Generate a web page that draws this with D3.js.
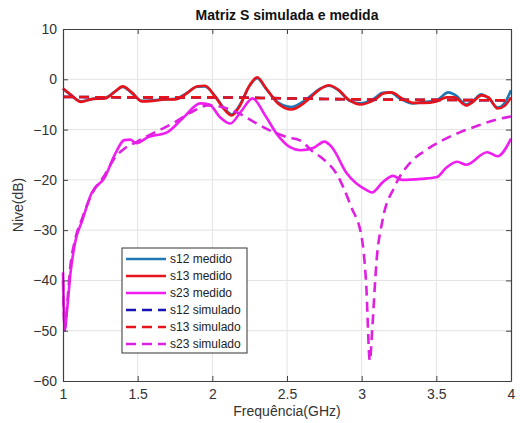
<!DOCTYPE html>
<html><head><meta charset="utf-8">
<script src="https://cdn.jsdelivr.net/npm/d3@7"></script>
<style>body{margin:0;background:#fff;}svg{display:block;font-family:"Liberation Sans",Arial,sans-serif;}</style>
</head><body><svg id="c" width="520" height="423"></svg>
<script>
const title = "Matriz S simulada e medida";
const xLabel = "Frequência(GHz)";
const yLabel = "Nive(dB)";
const xTicks = [1, 1.5, 2, 2.5, 3, 3.5, 4];
const yTicks = [-60, -50, -40, -30, -20, -10, 0, 10];
const seriesNames = ["s12 medido","s13 medido","s23 medido","s12 simulado","s13 simulado","s23 simulado"];

const s13MedF = [1.00,1.05,1.12,1.20,1.28,1.35,1.40,1.46,1.53,1.60,1.68,1.75,1.82,1.90,1.95,2.02,2.08,2.13,2.18,2.25,2.30,2.36,2.44,2.53,2.62,2.72,2.78,2.84,2.92,2.99,3.08,3.15,3.20,3.27,3.35,3.42,3.50,3.57,3.62,3.70,3.75,3.80,3.85,3.91,3.96,4.00];
const s13Med  = [-1.8,-3.0,-4.5,-3.9,-3.8,-2.4,-1.4,-2.6,-4.4,-4.3,-4.0,-4.0,-3.0,-1.4,-1.3,-3.5,-6.0,-7.2,-5.5,-1.2,0.4,-1.8,-4.8,-6.0,-4.6,-2.0,-1.2,-2.0,-4.2,-5.0,-4.2,-2.8,-2.6,-3.8,-4.7,-4.7,-4.4,-3.6,-3.6,-5.2,-4.4,-3.2,-3.6,-5.8,-5.2,-3.6];
const s12MedF = [1.00,1.05,1.12,1.20,1.28,1.35,1.40,1.46,1.53,1.60,1.68,1.75,1.82,1.90,1.95,2.02,2.08,2.13,2.18,2.25,2.30,2.36,2.44,2.53,2.62,2.72,2.78,2.84,2.92,2.99,3.08,3.14,3.19,3.26,3.34,3.42,3.50,3.58,3.63,3.70,3.75,3.80,3.85,3.91,3.96,4.00];
const s12Med  = [-1.9,-3.1,-4.4,-3.9,-3.7,-2.4,-1.5,-2.7,-4.3,-4.2,-4.0,-3.9,-2.9,-1.5,-1.4,-3.4,-5.8,-7.0,-5.3,-1.3,0.2,-1.9,-4.6,-5.5,-4.2,-1.9,-1.3,-2.1,-4.3,-4.8,-3.9,-2.7,-2.6,-3.9,-4.8,-4.5,-4.2,-2.6,-3.2,-5.0,-4.2,-3.0,-3.8,-5.6,-4.6,-2.2];
const s23MedF = [1.00,1.012,1.03,1.05,1.08,1.13,1.19,1.28,1.35,1.41,1.45,1.49,1.57,1.70,1.80,1.92,1.98,2.05,2.12,2.19,2.27,2.35,2.43,2.52,2.59,2.68,2.75,2.80,2.90,3.03,3.07,3.14,3.21,3.27,3.40,3.50,3.57,3.64,3.70,3.84,3.91,4.00];
const s23Med  = [-38.4,-49.5,-45,-38.6,-32.6,-28,-22.7,-19.5,-14.8,-12.1,-12.0,-12.7,-11.5,-10.5,-7.8,-4.8,-5.0,-7.5,-8.8,-6.5,-3.8,-7.0,-10.8,-13.5,-14.1,-13.6,-12.4,-13.5,-18.7,-22.0,-22.5,-20.5,-19.2,-20.0,-19.8,-19.5,-17.5,-16.4,-17.0,-14.5,-15.3,-11.8];
const simF    = [1.0,1.5,2.0,2.5,3.0,3.5,4.0];
const s13Sim  = [-3.5,-3.6,-3.6,-3.8,-4.0,-4.1,-4.2];
const s12Sim  = [-3.5,-3.6,-3.6,-3.8,-4.0,-4.1,-4.2];
const s23SimF = [1.00,1.012,1.03,1.05,1.08,1.13,1.19,1.28,1.35,1.41,1.49,1.55,1.62,1.75,1.88,1.97,2.10,2.18,2.28,2.38,2.50,2.59,2.67,2.74,2.83,2.93,3.00,3.03,3.055,3.07,3.10,3.14,3.22,3.34,3.43,3.55,3.66,3.78,3.88,4.00];
const s23Sim  = [-40,-50,-44,-37,-32,-27.5,-23,-19,-15.5,-13.8,-12.5,-11.5,-10.5,-8.5,-6.2,-5.2,-5.8,-6.8,-8.5,-10.1,-11.5,-12.2,-14.3,-15.8,-18.7,-25.4,-31.4,-40.6,-56,-50,-36,-28,-21.4,-16.1,-14.1,-12,-10.5,-9.2,-8.2,-7.4];

const svg = d3.select("#c");
const L=63, R=511, T=29, B=381;
const x = d3.scaleLinear().domain([1,4]).range([L,R]);
const y = d3.scaleLinear().domain([-60,10]).range([B,T]);

// grid
const g = svg.append("g");
g.selectAll(".vx").data(xTicks.slice(1,-1)).enter().append("line")
  .attr("x1",d=>x(d)).attr("x2",d=>x(d)).attr("y1",T).attr("y2",B)
  .attr("stroke","#e3e3e3").attr("stroke-width",1);
g.selectAll(".hy").data(yTicks.slice(1,-1)).enter().append("line")
  .attr("y1",d=>y(d)).attr("y2",d=>y(d)).attr("x1",L).attr("x2",R)
  .attr("stroke","#e3e3e3").attr("stroke-width",1);

const series = [
  {name:seriesNames[0], f:s12MedF, v:s12Med, color:"#1f77b4", dash:null},
  {name:seriesNames[1], f:s13MedF, v:s13Med, color:"#e8141c", dash:null},
  {name:seriesNames[2], f:s23MedF, v:s23Med, color:"#f01ef0", dash:null},
  {name:seriesNames[3], f:simF, v:s12Sim, color:"#1414b4", dash:"10,6"},
  {name:seriesNames[4], f:simF, v:s13Sim, color:"#e8141c", dash:"10,6"},
  {name:seriesNames[5], f:s23SimF, v:s23Sim, color:"#e020e0", dash:"10,6"}
];
const line = d3.line().x(d=>x(d[0])).y(d=>y(d[1])).curve(d3.curveMonotoneX);
const plot = svg.append("g");
series.forEach(s=>{
  plot.append("path").attr("d", line(s.f.map((f,i)=>[f,s.v[i]])))
    .attr("fill","none").attr("stroke",s.color).attr("stroke-width",2.6)
    .attr("stroke-dasharray",s.dash);
});

// axes
const axColor="#404040";
const xa = svg.append("g").attr("transform",`translate(0,${B})`)
  .call(d3.axisBottom(x).tickValues(xTicks).tickFormat(d3.format("")).tickSizeInner(-5).tickSizeOuter(0).tickPadding(8));
const xt = svg.append("g").attr("transform",`translate(0,${T})`)
  .call(d3.axisTop(x).tickValues(xTicks).tickFormat("").tickSizeInner(-5).tickSizeOuter(0));
const ya = svg.append("g").attr("transform",`translate(${L},0)`)
  .call(d3.axisLeft(y).tickValues(yTicks).tickFormat(d3.format("")).tickSizeInner(-5).tickSizeOuter(0).tickPadding(6));
const yr = svg.append("g").attr("transform",`translate(${R},0)`)
  .call(d3.axisRight(y).tickValues(yTicks).tickFormat("").tickSizeInner(-5).tickSizeOuter(0));
[xa,xt,ya,yr].forEach(a=>{
  a.selectAll("path").attr("stroke",axColor).attr("stroke-width",1.2);
  a.selectAll("line").attr("stroke",axColor);
  a.selectAll("text").attr("fill","#333").style("font-size","14px").style("font-family","'Liberation Sans',Arial,sans-serif");
});

svg.append("text").attr("x",287).attr("y",20).attr("text-anchor","middle")
  .style("font-weight","bold").style("font-size","14px").attr("fill","#111").text(title);
svg.append("text").attr("x",287).attr("y",416).attr("text-anchor","middle")
  .style("font-size","14px").attr("fill","#333").text(xLabel);
svg.append("text").attr("transform",`translate(23,${(T+B)/2}) rotate(-90)`).attr("text-anchor","middle")
  .style("font-size","14px").attr("fill","#333").text(yLabel);

// legend
const lg = svg.append("g");
lg.append("rect").attr("x",122).attr("y",248).attr("width",125).attr("height",105)
  .attr("fill","#fff").attr("stroke","#333").attr("stroke-width",1);
series.forEach((s,i)=>{
  const yy = 259 + i*17;
  lg.append("line").attr("x1",126).attr("x2",166).attr("y1",yy).attr("y2",yy)
    .attr("stroke",s.color).attr("stroke-width",2.6).attr("stroke-dasharray",s.dash);
  lg.append("text").attr("x",170).attr("y",yy+4).style("font-size","12px").attr("fill","#222").text(s.name);
});
</script></body></html>
